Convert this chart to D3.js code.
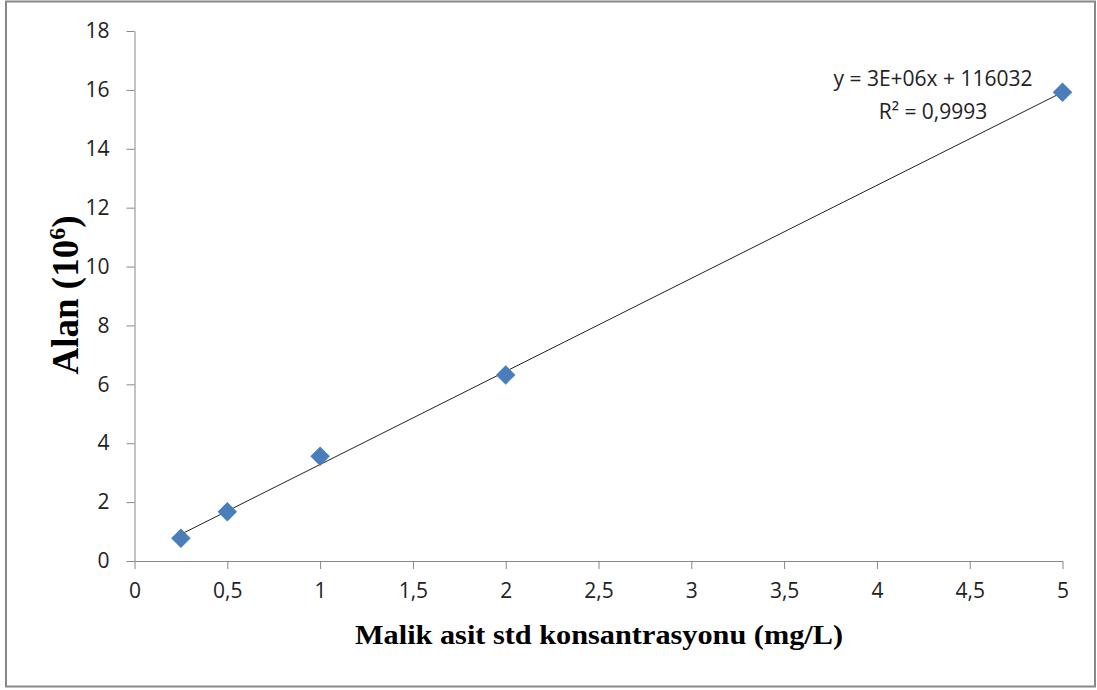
<!DOCTYPE html>
<html><head><meta charset="utf-8">
<script src="https://cdn.jsdelivr.net/npm/d3@7"></script>
<style>body{margin:0;background:#fff}svg{display:block}</style>
</head><body>
<script>
const xValues = [0.25, 0.5, 1, 2, 5];
const yValues = [0.77, 1.67, 3.56, 6.32, 15.92];
const xTicks = [0, 0.5, 1, 1.5, 2, 2.5, 3, 3.5, 4, 4.5, 5];
const yTicks = [0, 2, 4, 6, 8, 10, 12, 14, 16, 18];
const xTitle = "Malik asit std konsantrasyonu (mg/L)";
const equationText = "y = 3E+06x + 116032";
const r2Text = "R² = 0,9993";

const W = 1097, H = 690;
const svg = d3.select("body").append("svg").attr("width", W).attr("height", H);
svg.append("rect").attr("x", 6).attr("y", 1.5).attr("width", 1089).attr("height", 685)
  .attr("fill", "#fff").attr("stroke", "#888").attr("stroke-width", 2);

const x = d3.scaleLinear().domain([0, 5]).range([134.5, 1062.5]);
const y = d3.scaleLinear().domain([0, 18]).range([561, 31]);
const tickFont = "'Open Sans', sans-serif";
const fmt = d => String(d).replace(".", ",");

const gx = svg.append("g").attr("transform", `translate(0,${y(0)})`)
  .call(d3.axisBottom(x).tickValues(xTicks).tickFormat(fmt).tickSize(8).tickSizeOuter(0).tickPadding(14));
const gy = svg.append("g").attr("transform", `translate(${x(0)},0)`)
  .call(d3.axisLeft(y).tickValues(yTicks).tickFormat(fmt).tickSize(8).tickSizeOuter(0).tickPadding(17));
[gx, gy].forEach(g => {
  g.selectAll("path,line").attr("stroke", "#888").attr("stroke-width", 1);
  g.selectAll("text").attr("font-family", tickFont).attr("font-size", 21).attr("fill", "#222");
});

// trendline (least squares)
const n = xValues.length;
const mx = d3.mean(xValues), my = d3.mean(yValues);
let sxy = 0, sxx = 0;
for (let i = 0; i < n; i++) { sxy += (xValues[i]-mx)*(yValues[i]-my); sxx += (xValues[i]-mx)**2; }
const slope = sxy / sxx, icpt = my - slope * mx;
const x0 = d3.min(xValues), x1 = d3.max(xValues);
svg.append("line").attr("x1", x(x0)).attr("y1", y(slope*x0+icpt)).attr("x2", x(x1)).attr("y2", y(slope*x1+icpt))
  .attr("stroke", "#222").attr("stroke-width", 1);

const diamond = d3.symbol().type(d3.symbolSquare).size(190);
svg.append("g").selectAll("path").data(xValues.map((v, i) => [v, yValues[i]])).join("path")
  .attr("d", diamond)
  .attr("transform", d => `translate(${x(d[0])},${y(d[1])}) rotate(45)`)
  .attr("fill", "#4a7ebb");

svg.append("text").attr("x", 933).attr("y", 86).attr("text-anchor", "middle")
  .attr("font-family", tickFont).attr("font-size", 21).attr("fill", "#222").text(equationText);
svg.append("text").attr("x", 933).attr("y", 119).attr("text-anchor", "middle")
  .attr("font-family", tickFont).attr("font-size", 21).attr("fill", "#222").text(r2Text);

svg.append("text").attr("x", 599).attr("y", 644).attr("text-anchor", "middle")
  .attr("font-family", "'Liberation Serif', serif").attr("font-weight", "bold").attr("font-size", 28)
  .attr("textLength", 488).attr("lengthAdjust", "spacingAndGlyphs").text(xTitle);

const yt = svg.append("text").attr("transform", "translate(78,295) rotate(-90)").attr("text-anchor", "middle")
  .attr("font-family", "'Liberation Serif', serif").attr("font-weight", "bold").attr("font-size", 37);
yt.append("tspan").text("Alan (10");
yt.append("tspan").attr("dy", -13).attr("font-size", 24).text("6");
yt.append("tspan").attr("dy", 13).text(")");
</script>
</body></html>
